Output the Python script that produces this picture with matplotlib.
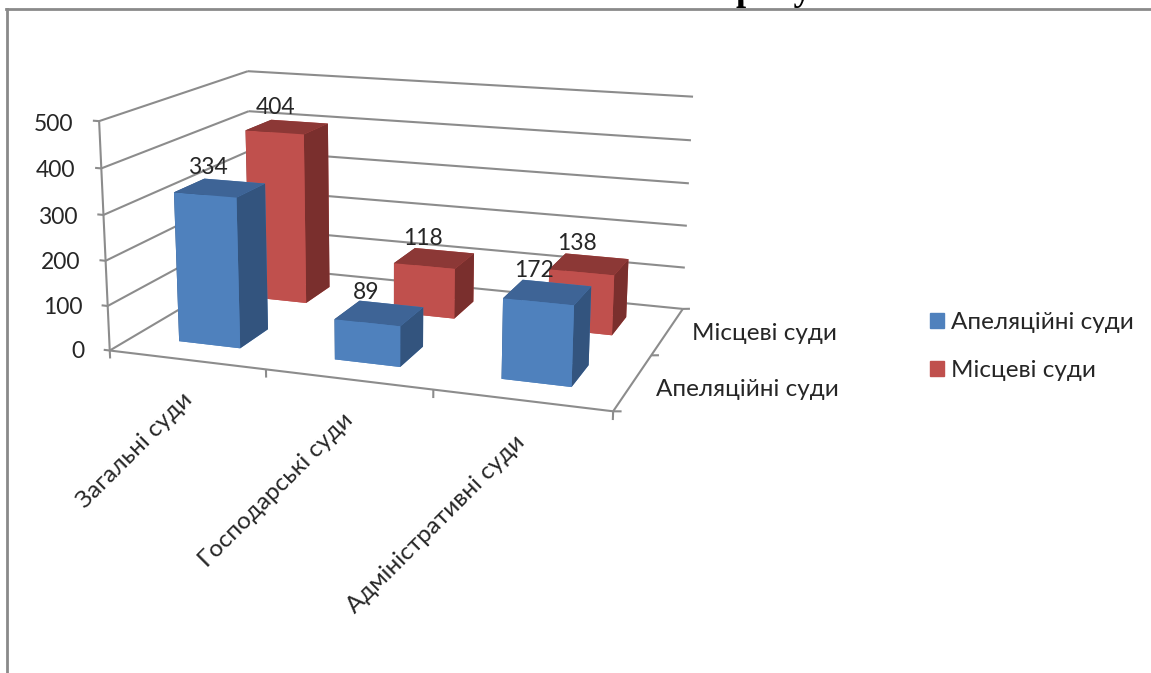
import numpy as np
import matplotlib
matplotlib.use("Agg")
import matplotlib.pyplot as plt
from matplotlib.lines import Line2D
from matplotlib.patches import Patch
from mpl_toolkits.mplot3d import proj3d
from mpl_toolkits.mplot3d.art3d import Line3DCollection

FONT = ['Lato', 'Noto Sans', 'DejaVu Sans']
plt.rcParams['font.family'] = FONT

categories = ['Загальні суди', 'Господарські суди', 'Адміністративні суди']
series_names = ['Апеляційні суди', 'Місцеві суди']
appeal_values = [334, 89, 172]
local_values = [404, 118, 138]
value_ticks = [0, 100, 200, 300, 400, 500]

W, H = 1151, 673
TEXT = '#262626'
GRID = '#8c8c8c'
FS = 17.5
FS_NUM = 16.5
# bar3d face order: bottom, top, front, back, left, right
BLUE = ['#4F81BD', '#3E6496', '#4F81BD', '#4F81BD', '#33547E', '#33547E']
RED = ['#C0504D', '#8C3836', '#C0504D', '#C0504D', '#7A2F2D', '#7A2F2D']

fig = plt.figure(figsize=(W / 100, H / 100), dpi=100)
ax = fig.add_axes([0, 0, 1, 1], projection='3d', computed_zorder=False)
ax.set_axis_off()
ax.apply_aspect = lambda *a, **k: None

# Camera calibration: wall/floor corners of the chart box -> picture pixels
calib = [((0, 0, 0), (110, 350)), ((3, 0, 0), (613, 412)), ((0, 0, 500), (99, 121)),
         ((0, 2, 500), (248, 71)), ((3, 2, 500), (693, 97)), ((3, 2, 0), (683, 308)),
         ((0, 2, 0), (252, 267))]
A = []
for (x, y, z), (u, v) in calib:
    z2 = z / 100
    A.append([x, y, z2, 1, 0, 0, 0, 0, -u * x, -u * y, -u * z2, -u])
    A.append([0, 0, 0, 0, x, y, z2, 1, -v * x, -v * y, -v * z2, -v])
P = np.linalg.svd(np.array(A, float))[2][-1].reshape(3, 4)
P[:, 2] /= 100
if P[2, 3] < 0:
    P = -P
vl = ax.viewLim
sx = (vl.x1 - vl.x0) / W
sy = (vl.y1 - vl.y0) / H
r0 = sx * P[0] + vl.x0 * P[2]
r1 = -sy * P[1] + vl.y1 * P[2]
r3 = P[2]
r2 = np.array([-0.02, 0.2, -0.0004, 0.0]) * P[2, 3]
M = np.vstack([r0, r1, r2, r3])
ax.get_proj = lambda: M
ax.M = M


def put(x, y, z, s, **kw):
    X, Y, _ = proj3d.proj_transform(x, y, z, M)
    kw.setdefault('fontsize', FS)
    kw.setdefault('color', TEXT)
    kw.setdefault('zorder', 50)
    return ax.text2D(X, Y, s, transform=ax.transData, **kw)


segments = []


def line(xs, ys, zs):
    pts = list(zip(xs, ys, zs))
    segments.extend([pts[k], pts[k + 1]] for k in range(len(pts) - 1))


# walls
for v in value_ticks:
    line([0, 0, 3], [0, 2, 2], [v, v, v])
    line([0, -0.04], [0, 0], [v, v])
line([0, 0], [0, 0], [0, value_ticks[-1]])
line([0, 3, 3], [0, 0, 2], [0, 0, 0])
for i in range(len(categories) + 1):
    line([i, i], [0, 0], [0, -18])
for j in range(len(series_names) + 1):
    line([3, 3.045], [j, j], [0, 2])
ax.add_collection3d(Line3DCollection(segments, colors=GRID, linewidths=1.5, zorder=1))

# bars
W_BAR = 0.4
for j, (vals, cols) in enumerate([(local_values, RED), (appeal_values, BLUE)]):
    sj = 1 - j
    for i, v in enumerate(vals):
        ax.bar3d(i + 0.3, sj + 0.3, 0, W_BAR, W_BAR, v, color=cols, shade=False,
                 zorder=10 + 2 * j + i * 0.1, linewidth=0)

# data labels
for sj, vals in [(1, local_values), (0, appeal_values)]:
    for i, v in enumerate(vals):
        put(i + 0.42, sj + 0.5, v + 20, str(v), ha='center', va='bottom', fontsize=FS_NUM)

# value axis labels
for v in value_ticks:
    put(-0.17, 0, v - 10, str(v), ha='right', va='center', fontsize=FS_NUM)

# category labels
for i, c in enumerate(categories):
    put(i + 0.505, 0, -82, c, ha='right', va='center', rotation=45, rotation_mode='anchor')

# series labels
put(3.13, 0.5, -10, series_names[0], ha='left', va='center')
put(3.15, 1.5, 0, series_names[1], ha='left', va='center')

# legend
handles = [Patch(color=BLUE[0]), Patch(color=RED[0])]
fig.legend(handles, series_names, loc='center left', bbox_to_anchor=(0.789, 0.485),
           frameon=False, fontsize=FS, labelcolor=TEXT, handlelength=0.58, handleheight=0.58,
           labelspacing=1.14, handletextpad=0.3)

# outer frame and title, which the reference's frame cuts off at the top edge
fig.add_artist(Line2D([7 / W, 7 / W], [0, 1 - 9 / H], color='#8a8a8a', lw=2))
fig.add_artist(Line2D([6 / W, 1], [1 - 9 / H, 1 - 9 / H], color='#8a8a8a', lw=2))
fig.text(736 / W, 1 - 0.5 / H, 'року', family=['Liberation Serif'], fontweight='bold', fontsize=26,
         color='black', ha='left', va='baseline')

fig.savefig('out.png', dpi=100)
